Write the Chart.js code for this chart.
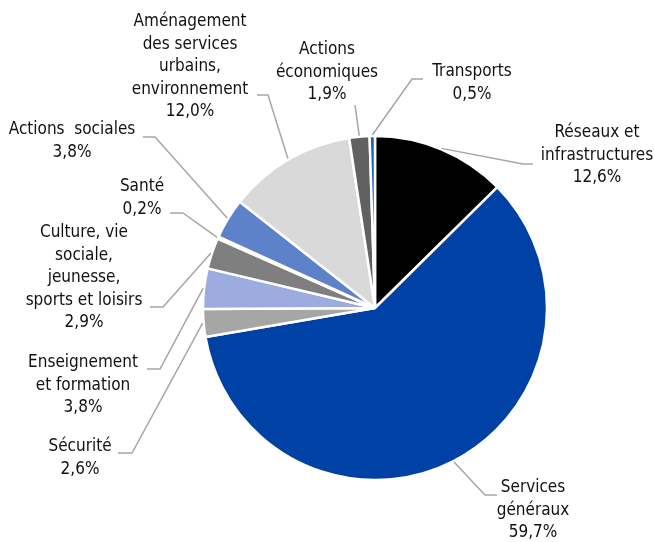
<!DOCTYPE html>
<html>
<head>
<meta charset="utf-8">
<script src="https://cdn.jsdelivr.net/npm/chart.js@4"></script>
<style>
  html, body { margin: 0; padding: 0; background: #fff; }
  #wrap { width: 654px; height: 542px; position: relative; }
</style>
</head>
<body>
<div id="wrap"><canvas id="myChart"></canvas></div>
<script>
// categories, clockwise from 12 o'clock
var categories = [
    ['Réseaux et', 'infrastructures'],
    ['Services', 'généraux'],
    ['Sécurité'],
    ['Enseignement', 'et formation'],
    ['Culture, vie', 'sociale,', 'jeunesse,', 'sports et loisirs'],
    ['Santé'],
    ['Actions  sociales'],
    ['Aménagement', 'des services', 'urbains,', 'environnement'],
    ['Actions', 'économiques'],
    ['Transports']
];
var values = [12.6, 59.7, 2.6, 3.8, 2.9, 0.2, 3.8, 12.0, 1.9, 0.5];
var colors = ['#000000', '#0041A5', '#A6A6A6', '#9CACDE', '#7F7F7F',
              '#4A6FBF', '#5E82C9', '#D9D9D9', '#616161', '#1F5CC4'];

// label placement: text centre x, first line y, elbow of leader, end of leader
var labelPos = [
    {x: 597, y: 133, elbow: [523, 164], end: [533, 164]},
    {x: 533, y: 488, elbow: [485, 495], end: [497, 495]},
    {x: 80,  y: 447, elbow: [132, 453], end: [118, 453]},
    {x: 83,  y: 363, elbow: [160, 369], end: [147, 369]},
    {x: 84,  y: 233, elbow: [163, 307], end: [150, 307]},
    {x: 142, y: 187, elbow: [183, 213], end: [170, 213]},
    {x: 72,  y: 130, elbow: [155, 137], end: [143, 137]},
    {x: 190, y: 22,  elbow: [268, 95],  end: [257, 95]},
    {x: 327, y: 50,  elbow: [355, 105], end: [355, 105]},
    {x: 472, y: 72,  elbow: [412, 79],  end: [423, 79]}
];

var FONT = '17px "DejaVu Sans Condensed", "DejaVu Sans", sans-serif';
var LINE_H = 22.5;

var outsideLabels = {
    id: 'outsideLabels',
    afterDatasetsDraw: function(chart) {
        var c = chart.ctx;
        var arcs = chart.getDatasetMeta(0).data;
        c.save();
        arcs.forEach(function(arc, i) {
            var p = labelPos[i];
            var mid = (arc.startAngle + arc.endAngle) / 2;
            var r = arc.outerRadius + 1;
            var ax = arc.x + Math.cos(mid) * r;
            var ay = arc.y + Math.sin(mid) * r;
            c.strokeStyle = '#A6A6A6';
            c.lineWidth = 1.5;
            c.beginPath();
            c.moveTo(ax, ay);
            c.lineTo(p.elbow[0], p.elbow[1]);
            c.lineTo(p.end[0], p.end[1]);
            c.stroke();

            var lines = categories[i].concat([values[i].toFixed(1).replace('.', ',') + '%']);
            c.fillStyle = '#111111';
            c.font = FONT;
            c.textAlign = 'center';
            c.textBaseline = 'middle';
            lines.forEach(function(t, k) {
                c.fillText(t, p.x, p.y + k * LINE_H);
            });
        });
        c.restore();
    }
};

var config = {
    type: 'pie',
    data: {
        labels: categories,
        datasets: [{
            data: values,
            backgroundColor: colors,
            borderColor: '#ffffff',
            borderWidth: 2.5
        }]
    },
    options: {
        responsive: true,
        maintainAspectRatio: false,
        animation: false,
        radius: 172,
        layout: {padding: {left: 200, right: 104, top: 130, bottom: 56}},
        plugins: {
            legend: {display: false},
            tooltip: {enabled: false}
        }
    },
    plugins: [outsideLabels]
};

const ctx = document.getElementById('myChart').getContext('2d');
const myChart = new Chart(ctx, config);
</script>
</body>
</html>
